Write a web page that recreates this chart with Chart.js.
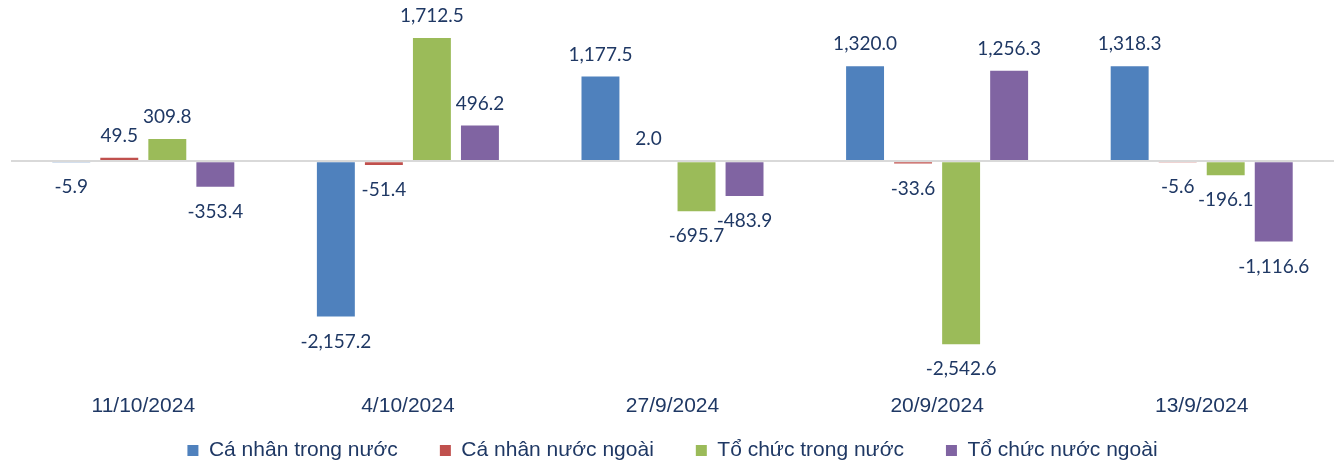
<!DOCTYPE html>
<html><head><meta charset="utf-8">
<script src="https://cdn.jsdelivr.net/npm/chart.js@4"></script>
<style>html,body{margin:0;padding:0;background:#fff;overflow:hidden;}</style>
</head><body>
<canvas id="c" width="1335" height="464" style="display:block;width:1335px;height:464px"></canvas>
<script>
const categories = ['11/10/2024', '4/10/2024', '27/9/2024', '20/9/2024', '13/9/2024'];
const seriesNames = ['Cá nhân trong nước', 'Cá nhân nước ngoài', 'Tổ chức trong nước', 'Tổ chức nước ngoài'];
const caNhanTrongNuoc = [-5.9, -2157.2, 1177.5, 1320.0, 1318.3];
const caNhanNuocNgoai = [49.5, -51.4, 2.0, -33.6, -5.6];
const toChucTrongNuoc = [309.8, 1712.5, -695.7, -2542.6, -196.1];
const toChucNuocNgoai = [-353.4, 496.2, -483.9, 1256.3, -1116.6];

const NAVY = '#1f3864';
const colors = ['#4f81bd', '#c0504d', '#9bbb59', '#8064a2'];
const seriesValues = [caNhanTrongNuoc, caNhanNuocNgoai, toChucTrongNuoc, toChucNuocNgoai];

const fmt = v => v.toLocaleString('en-US', {minimumFractionDigits: 1, maximumFractionDigits: 1});

const valueLabels = {
  id: 'valueLabels',
  afterDatasetsDraw(chart) {
    const ctx = chart.ctx;
    ctx.save();
    ctx.font = '19px Lato';
    ctx.fillStyle = NAVY;
    ctx.textAlign = 'center';
    ctx.textBaseline = 'middle';
    chart.data.datasets.forEach((ds, i) => {
      const meta = chart.getDatasetMeta(i);
      meta.data.forEach((bar, j) => {
        const v = ds.data[j];
        const y = v >= 0 ? bar.y - 22 : bar.y + 25;
        ctx.fillText(fmt(v), bar.x, y);
      });
    });
    ctx.restore();
  }
};

new Chart(document.getElementById('c'), {
  type: 'bar',
  data: {
    labels: categories,
    datasets: seriesNames.map((name, i) => ({
      label: name,
      data: seriesValues[i],
      backgroundColor: colors[i],
      borderWidth: 0,
      categoryPercentage: 0.726,
      barPercentage: 0.79
    }))
  },
  options: {
    responsive: false,
    animation: false,
    devicePixelRatio: 1,
    layout: {padding: {left: 11, right: 1, top: 10, bottom: -7}},
    scales: {
      x: {
        grid: {display: false, drawTicks: false},
        border: {display: false},
        ticks: {font: {family: 'Liberation Sans', size: 21}, color: NAVY, padding: -31, maxRotation: 0, mirror: true},
        afterFit: s => { s.height = 10; }
      },
      y: {
        min: -3150, max: 2100,
        grid: {
          drawTicks: false,
          z: 1,
          color: c => (c.tick && c.tick.value === 0) ? '#d9d9d9' : 'rgba(0,0,0,0)',
          lineWidth: 2
        },
        border: {display: false},
        ticks: {display: false, stepSize: 1050},
        afterFit: s => { s.width = 0; }
      }
    },
    plugins: {
      tooltip: {enabled: false},
      legend: {
        position: 'bottom',
        labels: {
          font: {family: 'Liberation Sans', size: 21},
          color: NAVY,
          boxWidth: 11,
          boxHeight: 11,
          padding: 42
        }
      }
    }
  },
  plugins: [valueLabels]
});
</script>
</body></html>
